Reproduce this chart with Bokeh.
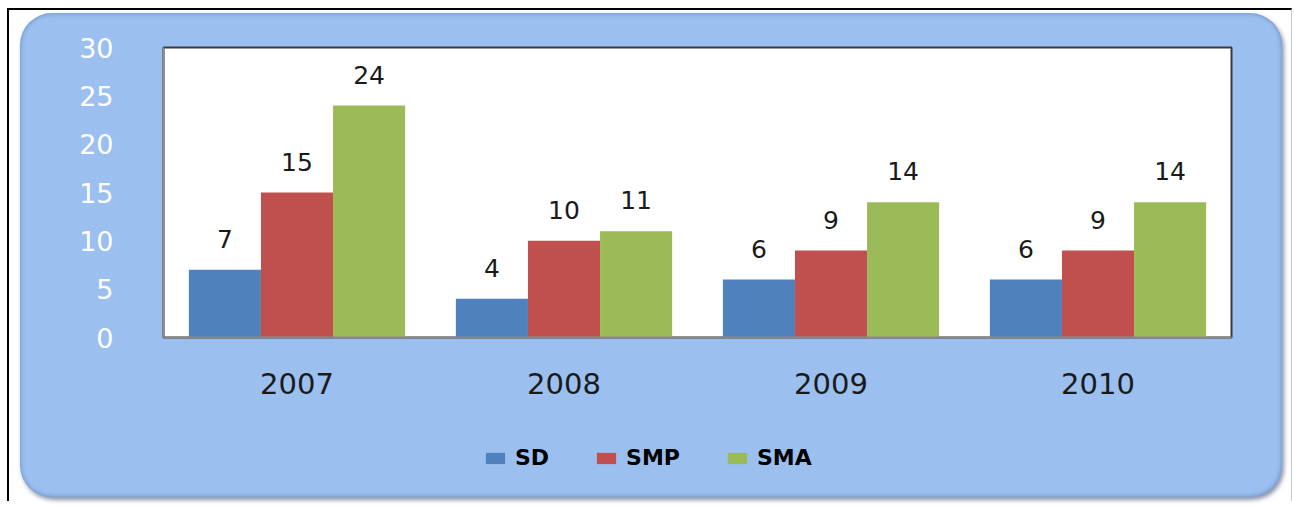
from bokeh.plotting import figure
from bokeh.models import (FactorRange, Range1d, FixedTicker, ColumnDataSource,
                          LabelSet, Legend, LegendItem)
from bokeh.core.properties import value
from bokeh.transform import dodge
from bokeh.layouts import column
from bokeh.embed import file_html
from bokeh.resources import INLINE

years = ["2007", "2008", "2009", "2010"]
sd = [7, 4, 6, 6]
smp = [15, 10, 9, 9]
sma = [24, 11, 14, 14]
series_names = ["SD", "SMP", "SMA"]
colors = ["#4F81BD", "#C0504D", "#9BBB59"]
y_ticks = [0, 5, 10, 15, 20, 25, 30]

FONT = "DejaVu Sans"
BLUE = "#9BBFEF"

src = ColumnDataSource(dict(
    year=years, SD=sd, SMP=smp, SMA=sma,
    SD_t=[str(v) for v in sd], SMP_t=[str(v) for v in smp], SMA_t=[str(v) for v in sma],
))

p = figure(x_range=FactorRange(*years), y_range=Range1d(0, 30),
           width=1262, height=420,
           min_border_left=143, min_border_right=51, min_border_top=34, min_border_bottom=96,
           output_backend="svg", toolbar_location=None,
           border_fill_color=None, background_fill_color="white",
           outline_line_color="#3a3a3a", outline_line_width=2)

bar_w = 0.27
offsets = [-bar_w, 0.0, bar_w]
for name, col, off in zip(series_names, colors, offsets):
    p.vbar(x=dodge("year", off, range=p.x_range), top=name, width=bar_w,
           source=src, fill_color=col, line_color=None)
    lbl = LabelSet(x=dodge("year", off, range=p.x_range), y=name, text=name + "_t",
                   source=src, y_offset=22, text_align="center", text_baseline="alphabetic",
                   text_font_size=value("25px"), text_color="#1a1a1a", text_font=value(FONT))
    p.add_layout(lbl)

p.xgrid.grid_line_color = None
p.ygrid.grid_line_color = None

p.yaxis.ticker = FixedTicker(ticks=y_ticks)
for ax in (p.xaxis[0], p.yaxis[0]):
    ax.major_tick_line_color = None
    ax.minor_tick_line_color = None
    ax.axis_line_color = "#8a8a8a"
    ax.axis_line_width = 2
    ax.major_label_text_font = FONT

p.yaxis.major_label_text_color = "white"
p.yaxis.major_label_text_font_size = "27px"
p.yaxis.major_label_standoff = 44
p.xaxis.major_label_text_color = "#1a1a1a"
p.xaxis.major_label_text_font_size = "29px"
p.xaxis.major_label_standoff = 29

# legend strip (separate small figure so the legend is not clipped by the plot frame)
lg = figure(width=1262, height=64, x_range=Range1d(0, 1), y_range=Range1d(0, 1),
            min_border=0, output_backend="svg", toolbar_location=None,
            border_fill_color=None, background_fill_color=None, outline_line_color=None)
lg.axis.visible = False
lg.grid.visible = False
leg_items = []
for name, col in zip(series_names, colors):
    # zero-height placeholder bar: only used to draw the legend swatch
    r = lg.vbar(x=[0.5], top=[0], bottom=[0], width=0, fill_color=col, line_color=None)
    leg_items.append(LegendItem(label=name, renderers=[r]))

legend = Legend(items=leg_items, orientation="horizontal", location=(320, 27),
                glyph_width=24, glyph_height=14, label_standoff=8, spacing=45,
                padding=0, margin=0, border_line_color=None, background_fill_alpha=0,
                label_text_font_size="22px", label_text_font=FONT, label_text_font_style="bold",
                label_text_color="black")
lg.add_layout(legend)

panel = column(p, lg, spacing=0,
               styles={"border-radius": "32px", "overflow": "hidden", "background": BLUE,
                       "box-shadow": "2px 3px 4px rgba(40,60,100,0.55), inset 0 0 5px rgba(40,70,130,0.45)"})

layout = column(panel, styles={"border-top": "2px solid black", "border-left": "2px solid black",
                               "border-right": "1px solid #c8c8c8", "padding": "3px 9px 4px 11px",
                               "margin-left": "7px", "margin-top": "8px",
                               "background": "white"})

open("out.html", "w").write(file_html(layout, INLINE))
